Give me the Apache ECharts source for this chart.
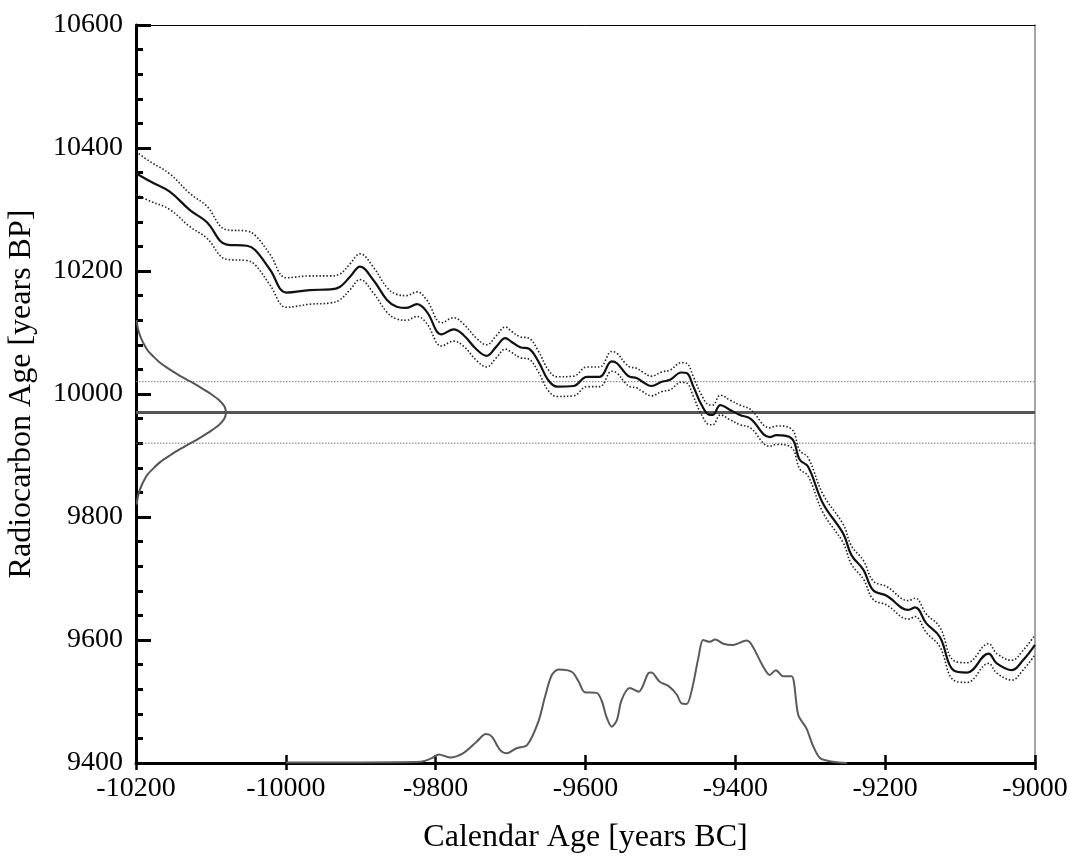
<!DOCTYPE html>
<html>
<head>
<meta charset="utf-8">
<script src="https://cdn.jsdelivr.net/npm/echarts@6/dist/echarts.min.js"></script>
<style>
  html, body { margin: 0; padding: 0; background: #fff; }
  #chart { width: 1069px; height: 861px; }
</style>
</head>
<body>
<div id="chart"></div>
<script>
// Calibration curve: calendar age (years BC, negative) and radiocarbon age (years BP)
const calX = [-10200, -10180, -10155, -10128, -10106, -10079, -10052, -10041, -10021, -9999,
  -9968, -9941, -9928, -9914, -9901, -9883, -9865, -9852, -9839, -9825,
  -9812, -9792, -9776, -9763, -9745, -9732, -9719, -9707, -9699, -9687,
  -9676, -9663, -9650, -9638, -9616, -9598, -9581, -9565, -9558, -9547,
  -9541, -9532, -9524, -9512, -9498, -9487, -9472, -9465, -9456, -9445,
  -9434, -9430, -9420, -9407, -9394, -9380, -9354, -9345, -9325, -9314,
  -9303, -9283, -9256, -9245, -9229, -9216, -9198, -9169, -9160, -9145,
  -9127, -9109, -9091, -9062, -9051, -9031, -9016, -9000];
const calY = [10359, 10345, 10329, 10299, 10280, 10243, 10241, 10234, 10202, 10165,
  10169, 10170, 10174, 10191, 10207, 10185, 10153, 10142, 10140, 10146,
  10134, 10097, 10105, 10096, 10072, 10062, 10077, 10091, 10085, 10076,
  10074, 10053, 10023, 10012, 10013, 10028, 10028, 10053, 10050, 10034,
  10028, 10026, 10020, 10013, 10020, 10023, 10035, 10034, 10012, 9982,
  9966, 9966, 9982, 9974, 9966, 9960, 9930, 9933, 9928, 9893,
  9882, 9822, 9773, 9738, 9714, 9681, 9672, 9649, 9653, 9627,
  9605, 9551, 9547, 9578, 9562, 9551, 9567, 9592];
// 1-sigma uncertainty of the curve at each point
const calSigma = [35, 32, 29, 27, 26, 24, 24, 24, 25, 24,
  23, 22, 21, 21, 21, 21, 20, 20, 20, 20,
  19, 19, 19, 18, 18, 18, 18, 18, 17, 17,
  17, 17, 17, 16, 16, 16, 16, 16, 16, 16,
  16, 16, 16, 16, 16, 16, 16, 16, 16, 16,
  16, 16, 16, 16, 16, 15, 15, 15, 15, 15,
  15, 15, 15, 15, 15, 15, 15, 15, 15, 15,
  16, 16, 16, 16, 16, 16, 16, 16];

// Measured radiocarbon age and its 1-sigma error
const measAge = 9970;
const measSigma = 50;

// Measurement density drawn against the y axis (width in years from the left edge)
const gaussAge = [9820, 9830, 9840, 9850, 9860, 9870, 9880, 9890, 9900, 9910,
  9920, 9930, 9940, 9950, 9960, 9970, 9980, 9990, 10000, 10010,
  10020, 10030, 10040, 10050, 10060, 10070, 10080, 10090, 10100, 10110, 10120];
const gaussWidth = [1, 2, 4, 7, 11, 16, 24, 33, 45, 58,
  73, 87, 100, 111, 118, 120, 118, 111, 100, 87,
  73, 58, 45, 33, 24, 16, 11, 7, 4, 2, 1];

// Calibrated calendar-age distribution (height in years above the baseline)
const distX = [-10000, -9900, -9820, -9805, -9796, -9781, -9763, -9745, -9733, -9725,
  -9714, -9705, -9692, -9678, -9663, -9654, -9645, -9636, -9618, -9609,
  -9601, -9585, -9578, -9572, -9565, -9558, -9552, -9541, -9529, -9516,
  -9512, -9501, -9489, -9478, -9472, -9465, -9458, -9449, -9443, -9434,
  -9427, -9416, -9403, -9385, -9378, -9363, -9354, -9346, -9336, -9325,
  -9316, -9305, -9296, -9287, -9274, -9251];
const distH = [1, 1, 2, 8, 14, 9, 16, 35, 47, 43,
  21, 16, 24, 29, 67, 108, 143, 152, 148, 132,
  115, 114, 100, 75, 59, 70, 102, 122, 116, 146,
  147, 132, 125, 111, 97, 96, 119, 173, 200, 197,
  201, 194, 192, 199, 192, 157, 143, 151, 141, 141,
  78, 56, 27, 8, 3, 0];

// Axis ranges and tick labels
const xMin = -10200, xMax = -9000, xStep = 200;
const yMin = 9400, yMax = 10600, yStep = 200;
const xTitle = 'Calendar Age [years BC]';
const yTitle = 'Radiocarbon Age [years BP]';

const FONT = 'Liberation Serif';
const plain = (v) => String(v);
const center = calX.map((x, i) => [x, calY[i]]);
const upper = calX.map((x, i) => [x, calY[i] + calSigma[i]]);
const lower = calX.map((x, i) => [x, calY[i] - calSigma[i]]);
const gauss = gaussAge.map((a, i) => [xMin + gaussWidth[i], a]);
const dist = distX.map((x, i) => [x, yMin + distH[i]]);

const chart = echarts.init(document.getElementById('chart'), null, { renderer: 'canvas' });

const hLine = (v) => [[xMin, v], [xMax, v]];

chart.setOption({
  animation: false,
  backgroundColor: '#ffffff',
  grid: { left: 136, right: 34, top: 25, bottom: 98, containLabel: false, outerBoundsMode: 'none' },
  xAxis: [
    {
      type: 'value', position: 'bottom', min: xMin, max: xMax, interval: xStep,
      name: xTitle, nameLocation: 'middle', nameGap: 59,
      nameTextStyle: { fontFamily: FONT, fontSize: 32, color: '#000' },
      axisLine: { onZero: false, lineStyle: { color: '#000', width: 3 } },
      axisTick: { inside: true, length: 8, lineStyle: { color: '#000', width: 2.5 } },
      axisLabel: { margin: 12, fontFamily: FONT, fontSize: 28, color: '#000', formatter: plain },
      splitLine: { show: false }
    },
    {
      type: 'value', position: 'bottom', min: xMin, max: xMax, interval: xStep,
      axisLine: { show: false, onZero: false },
      axisTick: { inside: false, length: 7, lineStyle: { color: '#000', width: 2.5 } },
      axisLabel: { show: false }, splitLine: { show: false }
    },
    {
      type: 'value', position: 'top', min: xMin, max: xMax,
      axisLine: { onZero: false, lineStyle: { color: '#000', width: 1 } },
      axisTick: { show: false }, axisLabel: { show: false }, splitLine: { show: false }
    }
  ],
  yAxis: [
    {
      type: 'value', position: 'left', min: yMin, max: yMax, interval: yStep,
      name: yTitle, nameLocation: 'middle', nameGap: 98, nameRotate: 90,
      nameTextStyle: { fontFamily: FONT, fontSize: 32, color: '#000' },
      axisLine: { onZero: false, lineStyle: { color: '#000', width: 3 } },
      axisTick: { inside: true, length: 15, lineStyle: { color: '#000', width: 3 } },
      minorTick: { show: true, splitNumber: 5, length: 7, lineStyle: { color: '#000', width: 3 } },
      axisLabel: { margin: 13, fontFamily: FONT, fontSize: 28, color: '#000', formatter: plain },
      splitLine: { show: false }, minorSplitLine: { show: false }
    },
    {
      type: 'value', position: 'right', min: yMin, max: yMax,
      axisLine: { onZero: false, lineStyle: { color: '#888', width: 1.5 } },
      axisTick: { show: false }, axisLabel: { show: false }, splitLine: { show: false }
    }
  ],
  series: [
    {
      name: 'measured', type: 'line', data: hLine(measAge), symbol: 'none', silent: true,
      lineStyle: { color: '#555', width: 3 }, z: 3
    },
    {
      name: 'measured +1σ', type: 'line', data: hLine(measAge + measSigma), symbol: 'none', silent: true,
      lineStyle: { color: '#777', width: 1, type: [1.5, 1.5] }, z: 3
    },
    {
      name: 'measured -1σ', type: 'line', data: hLine(measAge - measSigma), symbol: 'none', silent: true,
      lineStyle: { color: '#777', width: 1, type: [1.5, 1.5] }, z: 3
    },
    {
      name: 'density', type: 'line', data: gauss, symbol: 'none', smooth: 0.25, silent: true,
      lineStyle: { color: '#555', width: 2 }, z: 4
    },
    {
      name: 'calibrated', type: 'line', data: dist, symbol: 'none', smooth: 0.3, silent: true,
      lineStyle: { color: '#5a5a5a', width: 2 }, z: 4
    },
    {
      name: 'upper', type: 'line', data: upper, symbol: 'none', smooth: 0.4, silent: true,
      lineStyle: { color: '#222', width: 1.6, type: [1.5, 2] }, z: 5
    },
    {
      name: 'lower', type: 'line', data: lower, symbol: 'none', smooth: 0.4, silent: true,
      lineStyle: { color: '#222', width: 1.6, type: [1.5, 2] }, z: 5
    },
    {
      name: 'curve', type: 'line', data: center, symbol: 'none', smooth: 0.4, silent: true,
      lineStyle: { color: '#111', width: 2.2 }, z: 6
    }
  ]
});
</script>
</body>
</html>
